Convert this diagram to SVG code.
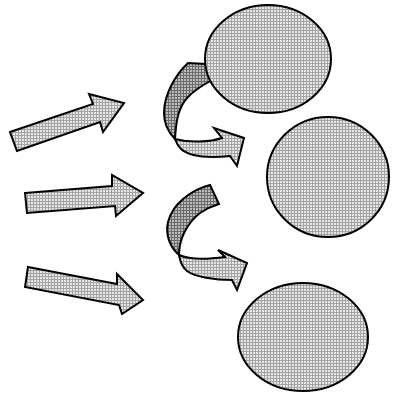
<svg xmlns="http://www.w3.org/2000/svg" width="396" height="393" viewBox="0 0 396 393">
<style>
.lt{fill:url(#lt);stroke:#000;stroke-width:2;stroke-linejoin:miter}
.dk{fill:url(#dk);stroke:#000;stroke-width:2;stroke-linejoin:miter}
.el{fill:url(#lt);stroke:#000;stroke-width:2}
</style>
<defs>
<pattern id="lt" width="3" height="3" patternUnits="userSpaceOnUse"><rect width="3" height="3" fill="#e6e6e6"/><rect width="3" height="1" fill="#a4a4a4"/><rect width="1" height="3" fill="#a4a4a4"/></pattern>
<pattern id="dk" width="3" height="3" patternUnits="userSpaceOnUse"><rect width="3" height="3" fill="#bcbcbc"/><rect width="3" height="1" fill="#6a6a6a"/><rect width="1" height="3" fill="#6a6a6a"/></pattern>
</defs>
<rect width="396" height="393" fill="#fff"/>
<g id="connectors">
<polygon id="arrow1" class="lt" points="10,132 93,104 89,94 124,103 103,132 100,122 17,151"/>
<polygon id="arrow2" class="lt" points="25,193 112,186 112,175 143,193 116,216 115,206 27,213"/>
<polygon id="arrow3" class="lt" points="28,267 117,284 117,274 143,300 122,314 119,305 25,287"/>
<g id="curved1">
<path class="lt" d="M175,139 C190,143 210,142 222,138 L214,128 L244,138 L237,166 L230,156 C210,158 190,157 181,149 C177,145 176,142 175,139 Z"/>
<path class="dk" d="M188,63 C175,75 164,95 164,113 C164,125 169,133 175,139 C176,122 178,108 187,98 C194,90 203,85 212,80 L206,64 Z"/>
</g>
<g id="curved2">
<path class="lt" d="M179,255 C190,260 210,259 225,257 L218,250 L247,263 L237,290 L232,280 C215,280 195,277 187,271 C182,267 180,261 179,255 Z"/>
<path class="dk" d="M210,185 C190,190 172,205 168,222 C165,235 170,247 179,255 C179,240 186,224 200,213 C206,209 212,206 219,204 Z"/>
</g>
</g>
<g id="node1"><ellipse class="el" cx="268" cy="59" rx="63" ry="54"/></g>
<g id="node2"><ellipse class="el" cx="328" cy="177" rx="61" ry="60"/></g>
<g id="node3"><ellipse class="el" cx="303" cy="337" rx="65" ry="54"/></g>
</svg>
